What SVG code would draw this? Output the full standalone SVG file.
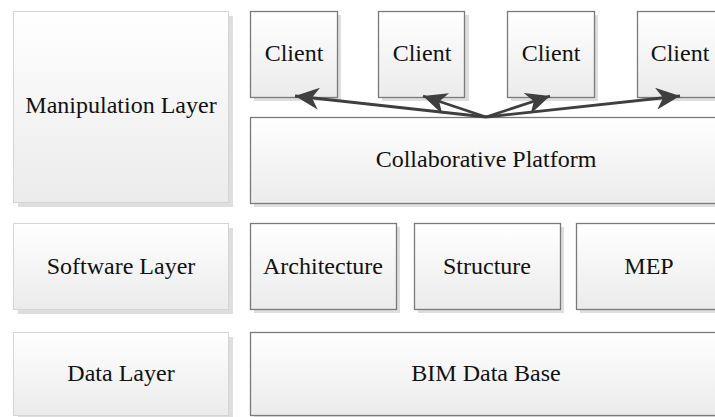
<svg xmlns="http://www.w3.org/2000/svg" width="715" height="417" viewBox="0 0 715 417">
<defs>
  <linearGradient id="g" x1="0" y1="0" x2="0" y2="1">
    <stop offset="0" stop-color="#ffffff"/>
    <stop offset="1" stop-color="#ebebeb"/>
  </linearGradient>
  <marker id="ah" viewBox="0 0 24 22" refX="24" refY="11" markerWidth="24" markerHeight="22" markerUnits="userSpaceOnUse" orient="auto">
    <path d="M0,0 L24,11 L0,22 L7,11 Z" fill="#3f3f3f"/>
  </marker>
</defs>
<style>
  .sh { fill: #dedede; }
  .lb { fill: url(#g); stroke: #d4d4d4; stroke-width: 1; }
  .nb { fill: url(#g); stroke: #7a7a7a; stroke-width: 1.3; }
  text { font-family: "Liberation Serif", "Times New Roman", serif; font-size: 24px; fill: #111111; text-anchor: middle; }
  .cn { stroke: #3f3f3f; stroke-width: 2.8; fill: none; marker-end: url(#ah); }
</style>
<rect width="715" height="417" fill="#ffffff"/>

<g id="manipulation-layer">
  <rect class="sh" x="18" y="16" width="215" height="191"/>
  <rect class="lb" x="13.5" y="11.5" width="215" height="191"/>
  <text x="121" y="113">Manipulation Layer</text>
</g>
<g id="software-layer">
  <rect class="sh" x="18" y="228" width="215" height="86"/>
  <rect class="lb" x="13.5" y="223.5" width="215" height="86"/>
  <text x="121" y="274">Software Layer</text>
</g>
<g id="data-layer">
  <rect class="sh" x="18" y="337" width="215" height="83"/>
  <rect class="lb" x="13.5" y="332.5" width="215" height="83"/>
  <text x="121" y="381">Data Layer</text>
</g>

<g id="client1">
  <rect class="sh" x="254" y="15" width="87" height="86"/>
  <rect class="nb" x="250.5" y="11.5" width="87" height="86"/>
  <text x="294" y="61">Client</text>
</g>
<g id="client2">
  <rect class="sh" x="382" y="15" width="87" height="86"/>
  <rect class="nb" x="378.5" y="11.5" width="86" height="86"/>
  <text x="422" y="61">Client</text>
</g>
<g id="client3">
  <rect class="sh" x="511" y="15" width="87" height="86"/>
  <rect class="nb" x="507.5" y="11.5" width="87" height="86"/>
  <text x="551" y="61">Client</text>
</g>
<g id="client4">
  <rect class="sh" x="641" y="15" width="87" height="86"/>
  <rect class="nb" x="637.5" y="11.5" width="86" height="86"/>
  <text x="680" y="61">Client</text>
</g>

<g id="collaborative-platform">
  <rect class="sh" x="254" y="121" width="472" height="86"/>
  <rect class="nb" x="250.5" y="117.5" width="472" height="86"/>
  <text x="486" y="167">Collaborative Platform</text>
</g>

<g id="architecture">
  <rect class="sh" x="254" y="227" width="146" height="86"/>
  <rect class="nb" x="250.5" y="223.5" width="146" height="86"/>
  <text x="323" y="274">Architecture</text>
</g>
<g id="structure">
  <rect class="sh" x="418" y="227" width="146" height="86"/>
  <rect class="nb" x="414.5" y="223.5" width="146" height="86"/>
  <text x="487" y="274">Structure</text>
</g>
<g id="mep">
  <rect class="sh" x="580" y="227" width="146" height="86"/>
  <rect class="nb" x="576.5" y="223.5" width="146" height="86"/>
  <text x="649" y="274">MEP</text>
</g>

<g id="bim-data-base">
  <rect class="sh" x="254" y="336" width="472" height="84"/>
  <rect class="nb" x="250.5" y="332.5" width="472" height="83"/>
  <text x="486" y="381">BIM Data Base</text>
</g>

<g id="connectors">
  <line class="cn" x1="486" y1="117" x2="295" y2="96"/>
  <line class="cn" x1="486" y1="117" x2="423" y2="96"/>
  <line class="cn" x1="486" y1="117" x2="550" y2="96"/>
  <line class="cn" x1="486" y1="117" x2="680" y2="96"/>
</g>
</svg>
